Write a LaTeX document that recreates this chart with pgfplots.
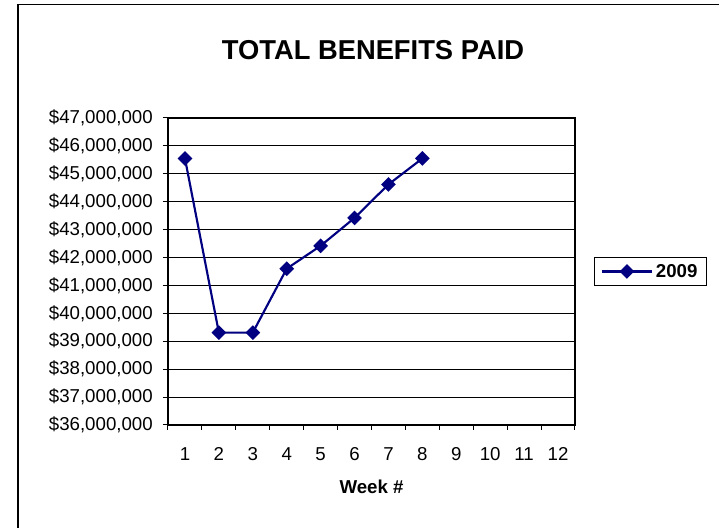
\documentclass[border=0pt]{standalone}
\usepackage{fontspec}
\setmainfont{Liberation Sans}
\usepackage{pgfplots}
\pgfplotsset{compat=1.18}
\definecolor{navy}{RGB}{0,0,128}
\begin{document}
\begin{tikzpicture}
\useasboundingbox (0,0) rectangle (539.25pt,396pt);
\fill[white] (0,0) rectangle (539.25pt,396pt);
\draw[line width=1.2pt] (13.5pt,-1pt) -- (13.5pt,392.5pt) -- (541pt,392.5pt);
\node[font=\fontsize{20.5}{24}\selectfont\bfseries] at (279.75pt,358.5pt) {TOTAL BENEFITS PAID};
\begin{axis}[
  at={(126pt,77.25pt)}, anchor=south west,
  scale only axis, width=305.25pt, height=230.25pt,
  xmin=0.5, xmax=12.5, ymin=36000000, ymax=47000000,
  /pgf/number format/assume math mode=true,
  xtick={0.5,1.5,...,12.5},
  xticklabels={},
  extra x ticks={1,...,12},
  extra x tick labels={1,2,3,4,5,6,7,8,9,10,11,12},
  extra x tick style={major tick length=0pt, tick style={draw=none},
    xticklabel style={inner sep=0pt, anchor=base, yshift=-27pt}},
  ytick={36000000,37000000,...,47000000},
  yticklabels={{\$36,000,000},{\$37,000,000},{\$38,000,000},{\$39,000,000},{\$40,000,000},{\$41,000,000},{\$42,000,000},{\$43,000,000},{\$44,000,000},{\$45,000,000},{\$46,000,000},{\$47,000,000}},
  scaled y ticks=false,
  tick align=outside,
  xtick pos=bottom, ytick pos=left,
  major tick length=3.75pt,
  tick style={black, line width=0.75pt},
  ymajorgrids, major grid style={black, line width=0.75pt},
  axis line style={line width=1.5pt},
  tick label style={font=\fontsize{14}{16}\selectfont},
  yticklabel style={inner sep=0pt, xshift=-7.5pt},
  xlabel={Week \#},
  xlabel style={font=\fontsize{14}{16}\selectfont\bfseries, at={(axis description cs:0.5,0)}, anchor=center, yshift=-46.5pt},
  legend style={at={(1,0.5)}, anchor=west, xshift=14.25pt, draw=black, line width=0.75pt,
    font=\fontsize{14}{16}\selectfont\bfseries, inner xsep=4.5pt, inner ysep=3.2pt},
  legend image code/.code={\draw[mark repeat=2,mark phase=2,#1] plot coordinates {(0pt,0pt) (19pt,0pt) (38pt,0pt)};},
]
\addplot[navy, line width=1.6pt, mark=square*, mark size=3.1pt, mark options={rotate=45, solid, fill=navy}]
coordinates {(1,45550000) (2,39310000) (3,39310000) (4,41600000) (5,42420000) (6,43420000) (7,44620000) (8,45550000)};
\addlegendentry{2009}
\end{axis}
\end{tikzpicture}
\end{document}
